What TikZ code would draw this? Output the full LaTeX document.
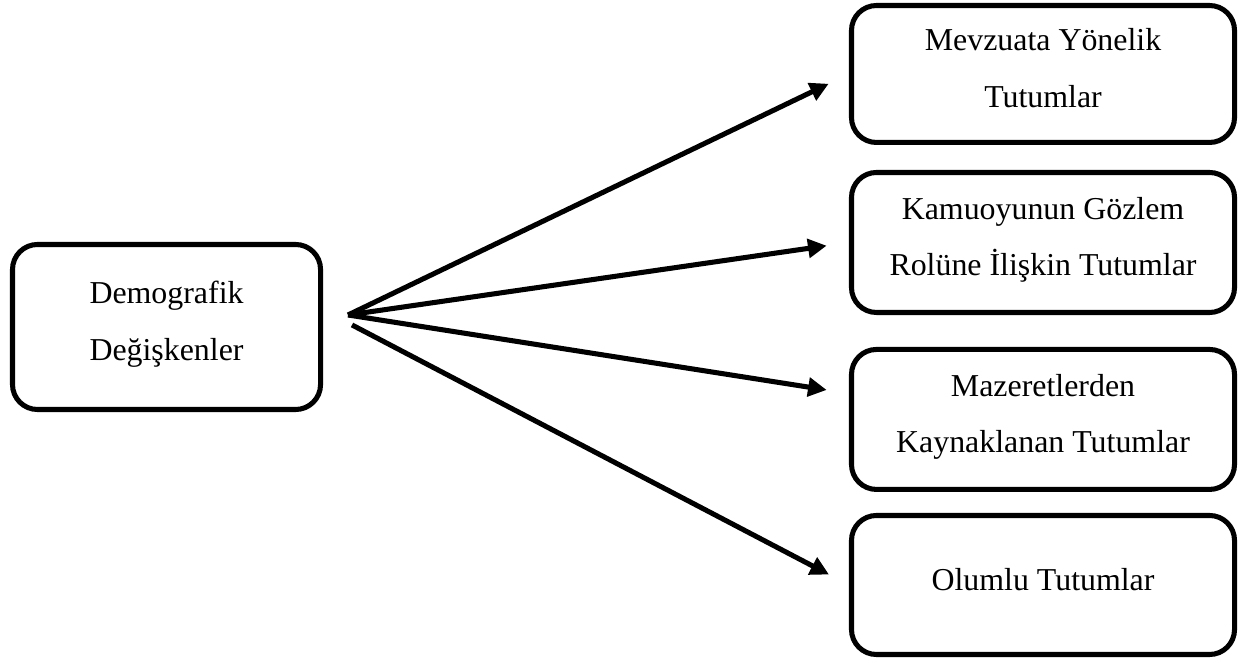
\documentclass[tikz,border=0pt]{standalone}
\usepackage{fontspec}
\setmainfont{Liberation Serif}
\usetikzlibrary{arrows.meta, positioning}

\begin{document}
\begin{tikzpicture}[
    kutu/.style={draw=black, line width=1.9pt, rounded corners=0.33cm, align=center, inner sep=0pt, text depth=4.5pt, font=\fontsize{12}{21.4}\selectfont},
    ok/.style={line width=1.9pt, -{Triangle[length=7pt, width=7pt]}, shorten >=8.5pt}]
\useasboundingbox (0,0) rectangle (16.47,8.731);
\node[kutu, minimum width=4.075cm, minimum height=2.183cm] (demografik) at (2.203,4.405) {Demografik\\Değişkenler};

\node[kutu, minimum width=5.067cm, minimum height=1.812cm] (mevzuat) at (13.798,7.752) {Mevzuata Yönelik\\Tutumlar};
\node[kutu, minimum width=5.067cm, minimum height=1.852cm] (kamuoyu) at (13.798,5.523) {Kamuoyunun Gözlem\\Rolüne İlişkin Tutumlar};
\node[kutu, minimum width=5.067cm, minimum height=1.852cm] (mazeret) at (13.798,3.182) {Mazeretlerden\\Kaynaklanan Tutumlar};
\node[kutu, minimum width=5.067cm, minimum height=1.839cm] (olumlu) at (13.798,0.992) {Olumlu Tutumlar};

\coordinate (kaynak) at (4.604,4.564);
\coordinate (kaynakalt) at (4.657,4.432);

\draw[ok] (kaynak) -- (mevzuat.west);
\draw[ok] (kaynak) -- (kamuoyu.west);
\draw[ok] (kaynak) -- ([yshift=0.344cm]mazeret.west);
\draw[ok] (kaynakalt) -- (olumlu.west);

\end{tikzpicture}
\end{document}
